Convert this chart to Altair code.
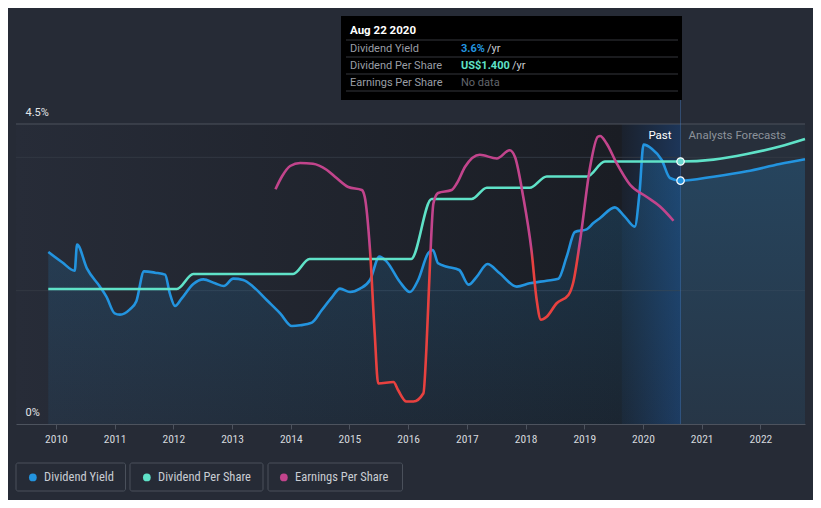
import altair as alt
import pandas as pd

# ---------------- data ----------------
yield_years = [2009.87, 2010.10, 2010.32, 2010.36, 2010.53, 2010.75, 2010.86, 2011.00, 2011.09, 2011.26,
               2011.37, 2011.50, 2011.69, 2011.86, 2011.94, 2012.03, 2012.14, 2012.34, 2012.51, 2012.71,
               2012.86, 2013.02, 2013.19, 2013.36, 2013.59, 2013.82, 2014.02, 2014.16, 2014.36, 2014.53,
               2014.70, 2014.84, 2015.01, 2015.18, 2015.35, 2015.51, 2015.63, 2015.86, 2016.03, 2016.17,
               2016.34, 2016.42, 2016.51, 2016.66, 2016.87, 2017.03, 2017.17, 2017.35, 2017.56, 2017.85,
               2018.07, 2018.36, 2018.56, 2018.70, 2018.84, 2019.04, 2019.15, 2019.27, 2019.52, 2019.69,
               2019.86, 2019.94, 2020.01, 2020.15, 2020.32, 2020.46, 2020.64]
yield_values = [2.58, 2.43, 2.30, 2.69, 2.33, 2.06, 1.91, 1.66, 1.64, 1.72,
                1.84, 2.29, 2.27, 2.24, 1.96, 1.77, 1.88, 2.10, 2.17, 2.11,
                2.07, 2.18, 2.16, 2.06, 1.86, 1.66, 1.47, 1.48, 1.52, 1.71,
                1.90, 2.03, 1.98, 2.03, 2.16, 2.51, 2.44, 2.13, 1.98, 2.16,
                2.56, 2.61, 2.41, 2.36, 2.31, 2.09, 2.21, 2.40, 2.26, 2.06,
                2.11, 2.15, 2.18, 2.51, 2.88, 2.92, 3.01, 3.09, 3.25, 3.11,
                2.96, 3.46, 4.19, 4.13, 3.96, 3.69, 3.65]
fc_yield_years = [2021.20, 2021.77, 2022.33, 2022.76]
fc_yield_values = [3.71, 3.79, 3.90, 3.97]

dps_years = [2009.87, 2012.06, 2012.34, 2014.04, 2014.32, 2016.05, 2016.40, 2017.08, 2017.34,
             2018.07, 2018.36, 2019.05, 2019.35, 2020.64]
dps_values = [0.72, 0.72, 0.80, 0.80, 0.88, 0.88, 1.20, 1.20, 1.26,
              1.26, 1.32, 1.32, 1.40, 1.40]
fc_dps_years = [2021.20, 2021.77, 2022.33, 2022.76]
fc_dps_values = [1.41, 1.44, 1.48, 1.52]

eps_years = [2013.74, 2013.85, 2013.99, 2014.16, 2014.38, 2014.61, 2014.78, 2014.98, 2015.21, 2015.26,
             2015.35, 2015.43, 2015.49, 2015.75, 2015.83, 2015.97, 2016.09, 2016.26, 2016.31, 2016.37,
             2016.43, 2016.51, 2016.74, 2016.83, 2016.97, 2017.22, 2017.51, 2017.73, 2017.82, 2017.96,
             2018.10, 2018.19, 2018.26, 2018.36, 2018.53, 2018.73, 2018.81, 2018.93, 2019.10, 2019.23,
             2019.27, 2019.38, 2019.55, 2019.78, 2020.06, 2020.29, 2020.52]
eps_values = [3.13, 3.30, 3.44, 3.48, 3.47, 3.39, 3.28, 3.16, 3.12, 3.03,
              2.32, 1.21, 0.54, 0.56, 0.45, 0.30, 0.30, 0.41, 0.99, 2.10,
              2.94, 3.08, 3.12, 3.21, 3.43, 3.59, 3.54, 3.65, 3.56, 3.03,
              2.32, 1.65, 1.39, 1.43, 1.61, 1.72, 1.88, 2.45, 3.43, 3.83,
              3.84, 3.74, 3.48, 3.19, 3.03, 2.90, 2.71]

tick_years = list(range(2010, 2023))
series_names = ["Dividend Yield", "Dividend Per Share", "Earnings Per Share"]
series_colors = ["#2394df", "#5fe2c8", "#c2448c"]
eps_low_color = "#e8413f"
view_start, band_start, past_end, view_end = 2009.32, 2019.64, 2020.64, 2022.76
yield_grid = [2, 4]
yield_top = 4.5
tooltip_date = "Aug 22 2020"
tooltip_values = ["3.6%", "US$1.400", "No data"]
tooltip_suffix = ["/yr", "/yr", ""]
tooltip_value_colors = ["#2394df", "#5fe2c8", "#62666d"]
period_labels = ["Past", "Analysts Forecasts"]

# ---------------- frames ----------------
yield_df = pd.DataFrame({"year": yield_years + fc_yield_years, "value": yield_values + fc_yield_values})
dps_df = pd.DataFrame({"year": dps_years + fc_dps_years, "value": dps_values + fc_dps_values})
eps_df = pd.DataFrame({"year": eps_years, "value": eps_values})
past_df = pd.DataFrame({"start": [view_start], "end": [past_end]})
band_df = pd.DataFrame({"start": [band_start], "end": [past_end]})
fc_df = pd.DataFrame({"start": [past_end], "end": [view_end]})
grid_df = pd.DataFrame({"value": yield_grid})
top_df = pd.DataFrame({"value": [yield_top]})
now_df = pd.DataFrame({"year": [past_end]})
yield_end_df = pd.DataFrame({"year": [past_end], "value": [yield_values[-1]]})
dps_end_df = pd.DataFrame({"year": [past_end], "value": [dps_values[-1]]})
legend_df = pd.DataFrame({"series": series_names})

FONT = "Roboto"
NARROW = "Roboto Condensed, Liberation Sans Narrow, Roboto, sans-serif"

xscale = alt.Scale(domain=[view_start, view_end], nice=False, zero=False)
xaxis = alt.Axis(values=tick_years, format="d", title=None, grid=False, labelColor="#d5d8dd",
                 labelFontSize=11.5, labelFont=NARROW, tickColor="#4d535e", tickSize=5,
                 domainColor="#4d535e", labelPadding=4, labelFlush=False, zindex=1)
yscale = alt.Scale(domain=[0, 4.5], nice=False, zero=True)
yaxis = alt.Axis(values=[0, 4.5], title=None, grid=False, domain=False, ticks=False,
                 labelExpr="datum.value == 0 ? '0%' : format(datum.value, '.1f') + '%'",
                 labelAlign="left", labelBaseline="middle", labelPadding=-9, labelOffset=-12,
                 labelColor="#e3e5e8", labelFontSize=11, labelFont=FONT, zindex=1)


def X(field):
    return alt.X(f"{field}:Q", scale=xscale, axis=xaxis)


def grad(stops, horizontal=True):
    return alt.Gradient(gradient="linear",
                        stops=[alt.GradientStop(color=c, offset=o) for o, c in stops],
                        x1=0, y1=0, x2=1 if horizontal else 0, y2=0 if horizontal else 1)


past_bg = alt.Chart(past_df).mark_rect(
    fill=grad([(0, "#272c38"), (0.91, "#1a1d24"), (1, "#1a1d24")])
).encode(x=X("start"), x2="end:Q")
band_bg = alt.Chart(band_df).mark_rect(
    fill=grad([(0, "rgba(35,110,210,0.05)"), (1, "rgba(35,110,210,0.30)")])
).encode(x=X("start"), x2="end:Q")
fc_bg = alt.Chart(fc_df).mark_rect(fill="#272f3b").encode(x=X("start"), x2="end:Q")
grid = alt.Chart(grid_df).mark_rule(color="#323843", strokeWidth=1).encode(
    y=alt.Y("value:Q", scale=yscale, axis=yaxis))
top = alt.Chart(top_df).mark_rule(color="#4c525c", strokeWidth=1).encode(
    y=alt.Y("value:Q", scale=yscale, axis=yaxis))
area = alt.Chart(yield_df).mark_area(
    interpolate="monotone",
    fill=grad([(0, "rgba(35,148,223,0.22)"), (1, "rgba(35,148,223,0.07)")], horizontal=False)
).encode(x=X("year"), y=alt.Y("value:Q", scale=yscale, axis=yaxis))
cross = alt.Chart(now_df).mark_rule(color="rgba(70,130,205,0.40)", strokeWidth=1).encode(
    x=X("year"), y=alt.value(-24), y2=alt.value(300))
yline = alt.Chart(yield_df).mark_line(interpolate="monotone", color=series_colors[0], strokeWidth=2.6).encode(
    x=X("year"), y=alt.Y("value:Q", scale=yscale, axis=yaxis))
ypoint = alt.Chart(yield_end_df).mark_circle(size=55, color=series_colors[0], opacity=1,
                                              stroke="white", strokeWidth=1.2).encode(
    x=X("year"), y=alt.Y("value:Q", scale=yscale, axis=yaxis))
past_txt = alt.Chart(now_df).mark_text(text=period_labels[0], align="right", dx=-9, fontSize=11.5,
                                       font=FONT, color="#ffffff", baseline="middle").encode(
    x=X("year"), y=alt.value(12))
fc_txt = alt.Chart(now_df).mark_text(text=period_labels[1], align="left", dx=8, fontSize=11.5,
                                     font=FONT, color="#8c929a", baseline="middle").encode(
    x=X("year"), y=alt.value(12))

# tooltip box (annotation)
tip = [alt.Chart(now_df).mark_rect(fill="#000000").encode(
    x=alt.value(325), x2=alt.value(666), y=alt.value(-108), y2=alt.value(-24))]
for yy in [-84, -67, -50, -33]:
    tip.append(alt.Chart(now_df).mark_rule(color="#34373c", strokeWidth=1).encode(
        x=alt.value(330), x2=alt.value(662), y=alt.value(yy)))
tip.append(alt.Chart(now_df).mark_text(text=tooltip_date, align="left", baseline="middle", font=FONT,
                                       fontSize=11.5, fontWeight="bold", color="#ffffff").encode(
    x=alt.value(334), y=alt.value(-93)))
row_y = [-75.5, -58.5, -41.5]
suffix_x = [471, 496, 0]
for i in range(3):
    tip.append(alt.Chart(now_df).mark_text(text=series_names[i], align="left", baseline="middle",
                                           font=FONT, fontSize=11, color="#9a9ea5").encode(
        x=alt.value(334), y=alt.value(row_y[i])))
    tip.append(alt.Chart(now_df).mark_text(text=tooltip_values[i], align="left", baseline="middle",
                                           font=FONT, fontSize=11,
                                           fontWeight="bold" if i < 2 else "normal",
                                           color=tooltip_value_colors[i]).encode(
        x=alt.value(445), y=alt.value(row_y[i])))
    if tooltip_suffix[i]:
        tip.append(alt.Chart(now_df).mark_text(text=tooltip_suffix[i], align="left", baseline="middle",
                                               font=FONT, fontSize=11, color="#c9ccd1").encode(
            x=alt.value(suffix_x[i]), y=alt.value(row_y[i])))

# legend boxes (decoration) + native legend
boxes = []
for x0, x1 in [(0, 109.5), (114, 247), (252, 386.5)]:
    boxes.append(alt.Chart(now_df).mark_rect(fill="#262b36", stroke="#4a505b", strokeWidth=1,
                                             cornerRadius=2).encode(
        x=alt.value(x0), x2=alt.value(x1), y=alt.value(339), y2=alt.value(367)))
legend_layer = alt.Chart(legend_df).mark_circle(opacity=0).encode(
    color=alt.Color("series:N", scale=alt.Scale(domain=series_names, range=series_colors),
                    legend=alt.Legend(orient="none", legendX=10.6, legendY=347, direction="horizontal",
                                      title=None, symbolType="circle", symbolSize=60,
                                      symbolOpacity=1, symbolStrokeWidth=0,
                                      labelFontSize=12.5, labelFont=NARROW, labelColor="#c9cdd3",
                                      labelOffset=5, columnPadding=26)))

yield_group = alt.layer(past_bg, band_bg, fc_bg, grid, top, area, cross, yline, ypoint,
                        past_txt, fc_txt, *tip, *boxes, legend_layer)

dscale = alt.Scale(domain=[0, 1.6], nice=False, zero=True)
dline = alt.Chart(dps_df).mark_line(interpolate="monotone", color=series_colors[1], strokeWidth=2.6).encode(
    x=X("year"), y=alt.Y("value:Q", scale=dscale, axis=None))
dpoint = alt.Chart(dps_end_df).mark_circle(size=55, color="#6ad8d0", opacity=1,
                                           stroke="white", strokeWidth=1.2).encode(
    x=X("year"), y=alt.Y("value:Q", scale=dscale, axis=None))
dps_group = alt.layer(dline, dpoint)

escale = alt.Scale(domain=[0, 4.0], nice=False, zero=True)
eline = alt.Chart(eps_df).mark_line(
    interpolate="monotone", strokeWidth=2.6,
    stroke=grad([(0, series_colors[2]), (0.41, series_colors[2]), (0.47, eps_low_color), (1, eps_low_color)],
                horizontal=False)
).encode(x=X("year"), y=alt.Y("value:Q", scale=escale, axis=None))

chart = alt.layer(yield_group, dps_group, eline).resolve_scale(y="independent").properties(
    width=789, height=300,
    padding={"left": 8, "top": 116, "right": 8, "bottom": 76},
    autosize=alt.AutoSizeParams(type="none"),
).configure(background="#262b36", font=FONT).configure_view(stroke=None)

chart.save("out.html", embed_options={"renderer": "svg", "actions": False})
